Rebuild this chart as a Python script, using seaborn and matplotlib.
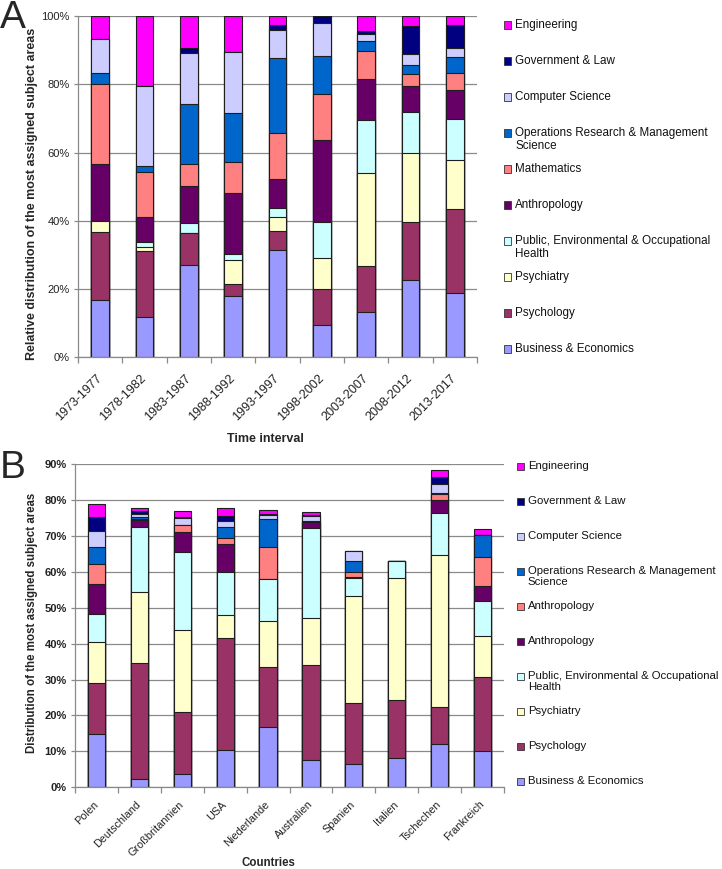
import numpy as np
import seaborn as sns
import matplotlib.pyplot as plt
import matplotlib.transforms as mtransforms
from matplotlib.patches import Rectangle

W, H = 722, 869

intervals = ['1973-1977', '1978-1982', '1983-1987', '1988-1992', '1993-1997',
             '1998-2002', '2003-2007', '2008-2012', '2013-2017']
countries = ['Polen', 'Deutschland', 'Großbritannien', 'USA', 'Niederlande',
             'Australien', 'Spanien', 'Italien', 'Tschechen', 'Frankreich']

# legend labels, bottom of the stack first
subjects_a = ['Business & Economics', 'Psychology', 'Psychiatry',
              'Public, Environmental & Occupational\nHealth', 'Anthropology',
              'Mathematics', 'Operations Research & Management\nScience',
              'Computer Science', 'Government & Law', 'Engineering']
subjects_b = ['Business & Economics', 'Psychology', 'Psychiatry',
              'Public, Environmental & Occupational\nHealth', 'Anthropology',
              'Anthropology', 'Operations Research & Management\nScience',
              'Computer Science', 'Government & Law', 'Engineering']
colors = ['#9999FF', '#993366', '#FFFFCC', '#CCFFFF', '#660066',
          '#FF8080', '#0066CC', '#CCCCFF', '#000080', '#FF00FF']

# panel A: share in % per time interval
a_business = [16.8, 11.9, 27.1, 17.9, 31.5, 9.5, 13.4, 22.7, 18.8]
a_psychology = [19.8, 19.1, 9.3, 3.7, 5.6, 10.4, 13.4, 16.9, 24.6]
a_psychiatry = [3.3, 1.4, 0.0, 6.9, 4.0, 9.3, 27.3, 20.4, 14.3]
a_health = [0.0, 1.5, 2.9, 1.8, 2.7, 10.4, 15.4, 11.9, 12.2]
a_anthropology = [16.8, 7.3, 10.9, 17.9, 8.3, 24.0, 12.0, 7.6, 8.3]
a_mathematics = [23.3, 13.2, 6.5, 8.9, 13.5, 13.4, 8.1, 3.5, 5.0]
a_operations = [3.4, 1.7, 17.6, 14.4, 22.0, 11.4, 3.0, 2.6, 4.8]
a_computer = [9.9, 23.3, 15.0, 17.9, 8.2, 9.5, 2.1, 3.4, 2.5]
a_government = [0.0, 0.0, 1.2, 0.0, 1.6, 2.1, 0.9, 8.2, 6.9]
a_engineering = [6.7, 20.6, 9.5, 10.6, 2.6, 0.0, 4.4, 2.8, 2.6]

# panel B: share in % per country
b_business = [14.8, 2.2, 3.6, 10.3, 16.9, 7.5, 6.4, 8.1, 12.1, 10.0]
b_psychology = [14.1, 32.5, 17.3, 31.4, 16.6, 26.5, 17.2, 16.2, 10.2, 20.6]
b_psychiatry = [11.5, 19.8, 23.0, 6.4, 12.9, 13.2, 29.7, 33.9, 42.3, 11.5]
b_health = [7.9, 18.1, 21.6, 11.7, 11.5, 25.1, 4.9, 4.9, 11.8, 9.8]
b_anthropology = [8.2, 1.7, 5.7, 7.8, 0.0, 1.5, 0.3, 0.0, 3.6, 4.2]
b_anthropology2 = [5.6, 0.5, 1.7, 1.9, 8.9, 0.1, 1.4, 0.0, 1.6, 8.0]
b_operations = [4.8, 0.4, 0.2, 2.9, 7.8, 0.1, 3.1, 0.0, 0.2, 6.0]
b_computer = [4.5, 1.0, 1.9, 1.8, 1.3, 1.6, 2.9, 0.0, 2.7, 0.0]
b_government = [3.9, 0.8, 0.2, 1.4, 0.2, 0.1, 0.0, 0.0, 2.0, 0.0]
b_engineering = [3.5, 0.8, 1.7, 2.2, 1.1, 1.0, 0.0, 0.0, 1.8, 1.9]

series_a = [a_business, a_psychology, a_psychiatry, a_health, a_anthropology,
            a_mathematics, a_operations, a_computer, a_government, a_engineering]
series_b = [b_business, b_psychology, b_psychiatry, b_health, b_anthropology,
            b_anthropology2, b_operations, b_computer, b_government, b_engineering]

sns.set_theme(style='white')
plt.rcParams['font.family'] = ['Liberation Sans', 'DejaVu Sans']
GRID = '#8a8a8a'


def stacked_bars(ax, cats, series):
    # draw cumulative totals from the top segment down so lower ones overlay
    cum = np.cumsum(np.array(series), axis=0)
    for k in reversed(range(len(series))):
        sns.barplot(x=cats, y=cum[k], order=cats, color=colors[k], saturation=1,
                    width=0.4, edgecolor='#1e1e1e', linewidth=0.8,
                    errorbar=None, ax=ax)


def style_axes(ax, cats, ymax, step, xfs, yfs, ybold, pad, dx):
    n = len(cats)
    ax.set_xlim(-0.5, n - 0.5)
    ax.set_ylim(0, ymax)
    yt = np.arange(0, ymax + 1, step)
    ax.set_yticks(yt)
    ax.set_yticklabels([f'{v}%' for v in yt], fontsize=yfs,
                       fontweight='bold' if ybold else 'normal', color='#222222')
    ax.set_xticks(range(n))
    ax.set_xticklabels(cats, rotation=45, ha='right', va='center',
                       rotation_mode='anchor', fontsize=xfs, color='#222222')
    shift = mtransforms.ScaledTranslation(dx / 100, 0, ax.figure.dpi_scale_trans)
    for lab in ax.get_xticklabels():
        lab.set_transform(lab.get_transform() + shift)
    ax.set_xticks(np.arange(n + 1) - 0.5, minor=True)
    ax.tick_params(axis='x', which='major', length=0, pad=pad)
    ax.tick_params(axis='x', which='minor', length=4, width=0.9,
                   direction='out', color=GRID, bottom=True)
    ax.tick_params(axis='y', length=3, width=0.9, direction='out',
                   color=GRID, pad=3, left=True)
    ax.yaxis.grid(True, color=GRID, linewidth=0.9)
    ax.set_axisbelow(True)
    for s in ['top', 'right']:
        ax.spines[s].set_visible(False)
    for s in ['left', 'bottom']:
        ax.spines[s].set_color(GRID)
        ax.spines[s].set_linewidth(0.9)


def draw_legend(fig, labels, x, y0, step, fs):
    for i, k in enumerate(reversed(range(len(labels)))):
        y = y0 + i * step
        fig.patches.append(Rectangle((x / W, 1 - (y + 3.6) / H), 7.3 / W, 7.3 / H,
                                     transform=fig.transFigure, facecolor=colors[k],
                                     edgecolor='#333333', linewidth=0.6))
        fig.text((x + 11) / W, 1 - (y - 6) / H, labels[k], fontsize=fs,
                 va='top', ha='left', color='#111111', linespacing=1.15)


fig = plt.figure(figsize=(W / 100, H / 100), dpi=100)

ax_a = fig.add_axes([78 / W, 1 - 357.3 / H, 399 / W, 341.3 / H])
stacked_bars(ax_a, intervals, series_a)
style_axes(ax_a, intervals, 100, 20, 9, 8, False, 14, -6)
ax_a.set_ylabel('Relative distribution of the most assigned subject areas',
                fontsize=9, fontweight='bold')
ax_a.yaxis.set_label_coords(-0.099, 0.48)
ax_a.set_xlabel('Time interval', fontsize=9, fontweight='bold')
ax_a.xaxis.set_label_coords(0.471, -0.222)
draw_legend(fig, subjects_a, 504, 25, 36, 8.4)

ax_b = fig.add_axes([75 / W, 1 - 787.3 / H, 429 / W, 323.3 / H])
stacked_bars(ax_b, countries, series_b)
style_axes(ax_b, countries, 90, 10, 7.8, 8, True, 11, -6)
ax_b.set_ylabel('Distribution of the most assigned subject areas',
                fontsize=8.3, fontweight='bold')
ax_b.yaxis.set_label_coords(-0.087, 0.51)
ax_b.set_xlabel('Countries', fontsize=8.3, fontweight='bold')
ax_b.xaxis.set_label_coords(0.452, -0.216)
draw_legend(fig, subjects_b, 516.7, 466.7, 35, 8.2)

fig.text(0, 1, 'A', fontsize=28, va='top', ha='left')
fig.text(0, 1 - 450 / H, 'B', fontsize=28, va='top', ha='left')

fig.savefig('out.png', dpi=100)
